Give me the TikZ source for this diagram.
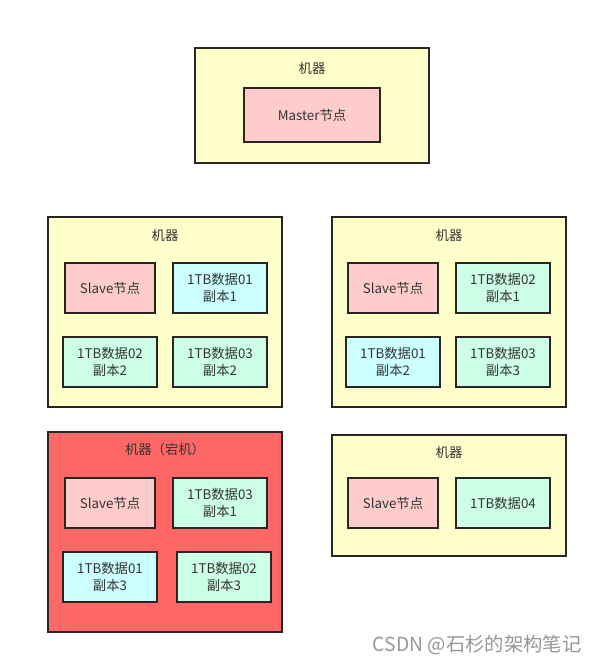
\documentclass[tikz,border=0pt]{standalone}
\usepackage{fontspec}
\setmainfont{Noto Sans CJK SC}
\definecolor{edgeclr}{RGB}{43,36,36}
\definecolor{txtclr}{RGB}{51,51,51}
\definecolor{machfill}{RGB}{255,255,204}
\definecolor{downfill}{RGB}{255,102,102}
\definecolor{slavefill}{RGB}{255,204,204}
\definecolor{cyanfill}{RGB}{204,255,255}
\definecolor{mintfill}{RGB}{204,255,230}
\tikzset{every picture/.style={line width=0.75pt}}
\tikzset{
  machine/.style={draw=edgeclr, line width=1.2pt, fill=machfill},
  blockbox/.style={draw=edgeclr, line width=1.5pt, text=txtclr, align=center,
    font=\fontsize{10}{12.5}\selectfont, inner sep=0pt,
    minimum width=70.5pt, minimum height=37.5pt},
  slavebox/.style={blockbox, fill=slavefill, minimum width=67.5pt},
  cyanbox/.style={blockbox, fill=cyanfill},
  mintbox/.style={blockbox, fill=mintfill},
  machlabel/.style={text=txtclr, font=\fontsize{10}{12}\selectfont, inner sep=0.75pt}
}

\begin{document}
\begin{tikzpicture}[x=0.75pt,y=0.75pt,yscale=-1,xscale=1]
\useasboundingbox (0,0) rectangle (598,664);

%Shape: Rectangle [master machine]
\draw [machine] (195,48) rectangle (429,163);
% Text Node
\draw (312,68) node (lbl0) [machlabel] {机器};
%Shape: Rectangle
\draw (312,115) node (master) [slavebox, minimum width=102pt, minimum height=40.5pt] {Master节点};

%Shape: Rectangle [machine 1]
\draw [machine] (48,217) rectangle (282,407);
% Text Node
\draw (165,235) node (lbl1) [machlabel] {机器};
\draw (110,288) node (slave1) [slavebox] {Slave节点};
\draw (220,288) node (d1a) [cyanbox] {1TB数据01\\副本1};
\draw (110,362) node (d1b) [mintbox] {1TB数据02\\副本2};
\draw (220,362) node (d1c) [mintbox] {1TB数据03\\副本2};

%Shape: Rectangle [machine 2]
\draw [machine] (332,217) rectangle (566,407);
% Text Node
\draw (449,235) node (lbl2) [machlabel] {机器};
\draw (393,288) node (slave2) [slavebox] {Slave节点};
\draw (503,288) node (d2a) [mintbox] {1TB数据02\\副本1};
\draw (393,362) node (d2b) [cyanbox] {1TB数据01\\副本2};
\draw (503,362) node (d2c) [mintbox] {1TB数据03\\副本3};

%Shape: Rectangle [machine 3, down]
\draw [machine, fill=downfill] (48,432) rectangle (282,632);
% Text Node
\draw (165,449) node (lbl3) [machlabel] {机器（宕机）};
\draw (110,503) node (slave3) [slavebox] {Slave节点};
\draw (220,503) node (d3a) [mintbox] {1TB数据03\\副本1};
\draw (110,577) node (d3b) [cyanbox] {1TB数据01\\副本3};
\draw (224,577) node (d3c) [mintbox] {1TB数据02\\副本3};

%Shape: Rectangle [machine 4]
\draw [machine] (332,435) rectangle (566,556);
% Text Node
\draw (449,452) node (lbl4) [machlabel] {机器};
\draw (393,503) node (slave4) [slavebox] {Slave节点};
\draw (503,503) node (d4a) [mintbox] {1TB数据04};

% Text Node
\draw (582,645) node (mark) [anchor=east, inner sep=0pt, text={rgb,255:red,150;green,150;blue,150}, font=\fontsize{14.5}{16}\selectfont] {CSDN @石杉的架构笔记};

\end{tikzpicture}
\end{document}
